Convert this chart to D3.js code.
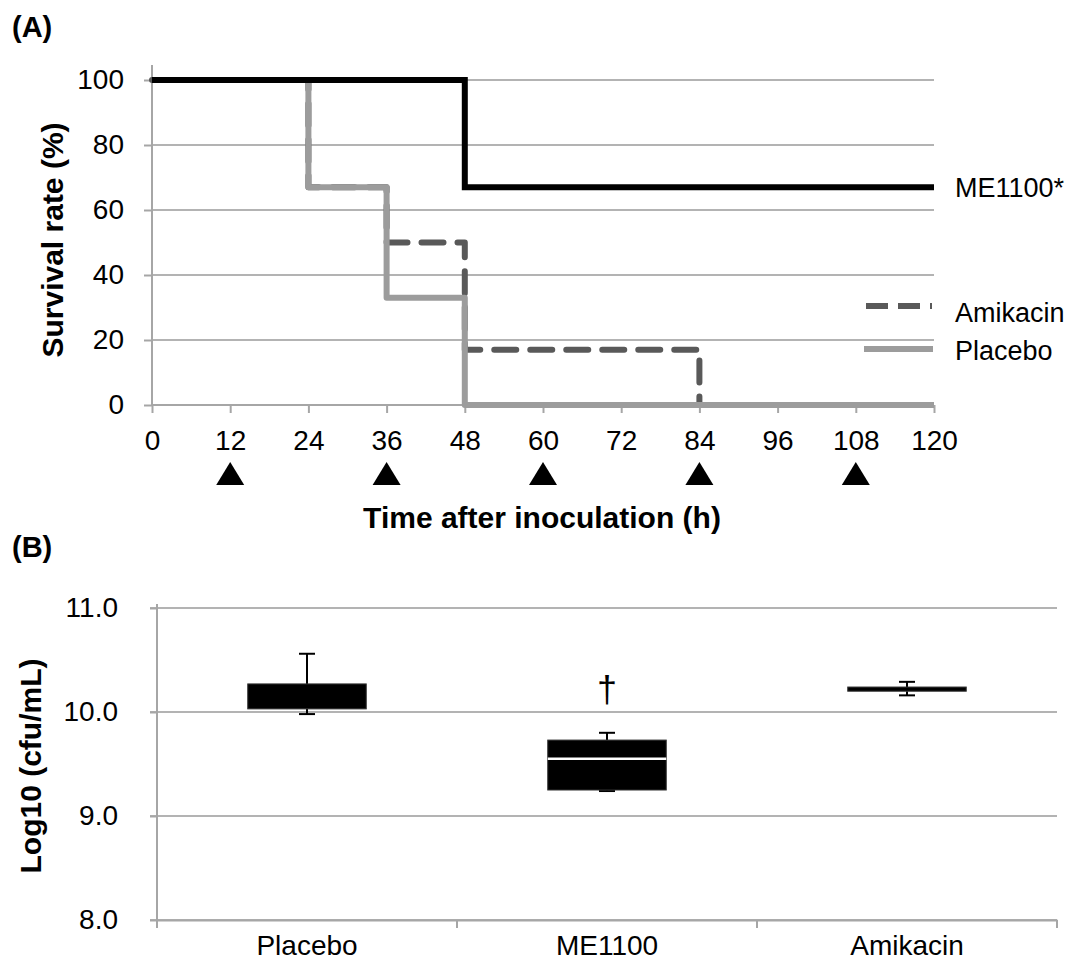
<!DOCTYPE html>
<html><head><meta charset="utf-8">
<script src="https://cdn.jsdelivr.net/npm/d3@7"></script>
<style>
html,body{margin:0;padding:0;background:#fff;}
text{font-family:"Liberation Sans",Arial,Helvetica,sans-serif;fill:#000;}
</style></head>
<body>
<svg id="chart" width="1089" height="974"></svg>
<script>
// ---------- Panel A data ----------
const survXTicks = [0, 12, 24, 36, 48, 60, 72, 84, 96, 108, 120];
const survYTicks = [0, 20, 40, 60, 80, 100];
const doseTimes = [12, 36, 60, 84, 108];
const me1100Times = [0, 48, 120];
const me1100Surv = [100, 67, 67];
const amikacinTimes = [0, 24, 36, 48, 84, 120];
const amikacinSurv = [100, 67, 50, 17, 0, 0];
const placeboTimes = [0, 24, 36, 48, 120];
const placeboSurv = [100, 67, 33, 0, 0];

// ---------- Panel B data ----------
const groups = ["Placebo", "ME1100", "Amikacin"];
const whiskerLow = [9.98, 9.24, 10.16];
const boxLow = [10.03, 9.25, 10.20];
const medians = [null, 9.55, null];
const boxHigh = [10.27, 9.73, 10.24];
const whiskerHigh = [10.56, 9.80, 10.29];
const logYTicks = [8.0, 9.0, 10.0, 11.0];

const svg = d3.select("#chart");
const gridColor = "#b3b3b3";
const axisColor = "#a6a6a6";

// ================= Panel A =================
const xA = d3.scaleLinear().domain([0, 120]).range([152, 934]);
const yA = d3.scaleLinear().domain([0, 100]).range([405, 80]);

svg.append("text").attr("x", 12).attr("y", 37)
  .style("font-size", "29px").style("font-weight", "bold").text("(A)");

// gridlines
svg.append("g").selectAll("line").data(survYTicks.filter(d => d > 0)).join("line")
  .attr("x1", xA(0)).attr("x2", xA(120))
  .attr("y1", d => yA(d)).attr("y2", d => yA(d))
  .attr("stroke", gridColor).attr("stroke-width", 2);

// y axis
const yAxisA = svg.append("g").attr("transform", `translate(${xA(0)},0)`)
  .call(d3.axisLeft(yA).tickValues(survYTicks).tickSize(8).tickPadding(20));
yAxisA.select(".domain").attr("stroke", axisColor).attr("stroke-width", 2)
  .attr("d", `M0,${yA(100) - 15}V${yA(0)}`);
yAxisA.selectAll(".tick line").attr("stroke", axisColor).attr("stroke-width", 2);
yAxisA.selectAll(".tick text").style("font-size", "28px")
  .style("font-family", "Liberation Sans, Arial, sans-serif").attr("fill", "#000");

// x axis
const xAxisA = svg.append("g").attr("transform", `translate(0,${yA(0)})`)
  .call(d3.axisBottom(xA).tickValues(survXTicks).tickSize(8).tickPadding(17));
xAxisA.select(".domain").attr("stroke", axisColor).attr("stroke-width", 2)
  .attr("d", `M${xA(0)},0H${xA(120)}`);
xAxisA.selectAll(".tick line").attr("stroke", axisColor).attr("stroke-width", 2);
xAxisA.selectAll(".tick text").style("font-size", "28px")
  .style("font-family", "Liberation Sans, Arial, sans-serif").attr("fill", "#000");

// dosing triangles
svg.append("g").selectAll("path").data(doseTimes).join("path")
  .attr("d", d => `M${xA(d) - 14},485L${xA(d)},462L${xA(d) + 14},485Z`)
  .attr("fill", "#000");

// axis titles
svg.append("text").attr("x", 542).attr("y", 528).attr("text-anchor", "middle")
  .style("font-size", "30px").style("font-weight", "bold").text("Time after inoculation (h)");
svg.append("text").attr("transform", "translate(63,240) rotate(-90)").attr("text-anchor", "middle")
  .style("font-size", "30px").style("font-weight", "bold").text("Survival rate (%)");

// step lines
const stepLine = d3.line().x(d => xA(d[0])).y(d => yA(d[1])).curve(d3.curveStepAfter);
const zip = (t, s) => t.map((v, i) => [v, s[i]]);

svg.append("path").datum(zip(amikacinTimes, amikacinSurv)).attr("d", stepLine)
  .attr("fill", "none").attr("stroke", "#595959").attr("stroke-width", 6)
  .attr("stroke-dasharray", "22,14").attr("stroke-linecap", "round").attr("stroke-linejoin", "round");
svg.append("path").datum(zip(placeboTimes, placeboSurv)).attr("d", stepLine)
  .attr("fill", "none").attr("stroke", "#9c9c9c").attr("stroke-width", 6).attr("stroke-linejoin", "round");
svg.append("path").datum(zip(me1100Times, me1100Surv)).attr("d", stepLine)
  .attr("fill", "none").attr("stroke", "#000").attr("stroke-width", 6);

// legend / labels
svg.append("text").attr("x", 955).attr("y", yA(67) + 10).style("font-size", "27px").text("ME1100*");
svg.append("line").attr("x1", 866).attr("x2", 932).attr("y1", 306).attr("y2", 306)
  .attr("stroke", "#595959").attr("stroke-width", 6).attr("stroke-dasharray", "22,10");
svg.append("text").attr("x", 955).attr("y", 322).style("font-size", "27px").text("Amikacin");
svg.append("line").attr("x1", 864).attr("x2", 933).attr("y1", 349).attr("y2", 349)
  .attr("stroke", "#9c9c9c").attr("stroke-width", 6);
svg.append("text").attr("x", 955).attr("y", 360).style("font-size", "27px").text("Placebo");

// ================= Panel B =================
const xB = d3.scaleBand().domain(groups).range([157, 1057]);
const yB = d3.scaleLinear().domain([8, 11]).range([920, 608]);

svg.append("text").attr("x", 12).attr("y", 557)
  .style("font-size", "29px").style("font-weight", "bold").text("(B)");

svg.append("g").selectAll("line").data(logYTicks).join("line")
  .attr("x1", 150).attr("x2", 1057)
  .attr("y1", d => yB(d)).attr("y2", d => yB(d))
  .attr("stroke", gridColor).attr("stroke-width", 2);

const yAxisB = svg.append("g").attr("transform", "translate(157,0)")
  .call(d3.axisLeft(yB).tickValues(logYTicks).tickFormat(d3.format(".1f")).tickSize(7).tickPadding(32));
yAxisB.select(".domain").attr("stroke", axisColor).attr("stroke-width", 2)
  .attr("d", `M0,${yB(11) - 4}V${yB(8)}`);
yAxisB.selectAll(".tick line").attr("stroke", axisColor).attr("stroke-width", 2);
yAxisB.selectAll(".tick text").style("font-size", "28px")
  .style("font-family", "Liberation Sans, Arial, sans-serif").attr("fill", "#000");

const xAxisB = svg.append("g").attr("transform", `translate(0,${yB(8)})`)
  .call(d3.axisBottom(xB).tickSize(0).tickPadding(15));
xAxisB.select(".domain").attr("stroke", axisColor).attr("stroke-width", 2);
xAxisB.selectAll(".tick text").style("font-size", "28px")
  .style("font-family", "Liberation Sans, Arial, sans-serif").attr("fill", "#000");
// boundary tick marks
svg.append("g").selectAll("line").data(groups.concat(["end"])).join("line")
  .attr("x1", (d, i) => 157 + i * xB.bandwidth()).attr("x2", (d, i) => 157 + i * xB.bandwidth())
  .attr("y1", yB(8)).attr("y2", yB(8) + 8).attr("stroke", axisColor).attr("stroke-width", 2);

const boxW = xB.bandwidth() * 0.395;
const capW = 16;
const gB = svg.append("g");
groups.forEach((g, i) => {
  const cx = xB(g) + xB.bandwidth() / 2;
  gB.append("line").attr("x1", cx).attr("x2", cx).attr("y1", yB(whiskerHigh[i])).attr("y2", yB(boxHigh[i]))
    .attr("stroke", "#000").attr("stroke-width", 2);
  gB.append("line").attr("x1", cx).attr("x2", cx).attr("y1", yB(whiskerLow[i])).attr("y2", yB(boxLow[i]))
    .attr("stroke", "#000").attr("stroke-width", 2);
  gB.append("line").attr("x1", cx - capW / 2).attr("x2", cx + capW / 2)
    .attr("y1", yB(whiskerHigh[i])).attr("y2", yB(whiskerHigh[i])).attr("stroke", "#000").attr("stroke-width", 2);
  gB.append("line").attr("x1", cx - capW / 2).attr("x2", cx + capW / 2)
    .attr("y1", yB(whiskerLow[i])).attr("y2", yB(whiskerLow[i])).attr("stroke", "#000").attr("stroke-width", 2);
  gB.append("rect").attr("x", cx - boxW / 2).attr("width", boxW)
    .attr("y", yB(boxHigh[i])).attr("height", yB(boxLow[i]) - yB(boxHigh[i]))
    .attr("fill", "#000").attr("stroke", "#333").attr("stroke-width", 1);
  if (medians[i] !== null) {
    gB.append("line").attr("x1", cx - boxW / 2).attr("x2", cx + boxW / 2)
      .attr("y1", yB(medians[i])).attr("y2", yB(medians[i])).attr("stroke", "#fff").attr("stroke-width", 2.5);
  }
});

// significance mark
svg.append("text").attr("x", xB("ME1100") + xB.bandwidth() / 2).attr("y", 702)
  .attr("text-anchor", "middle").style("font-size", "36px").text("†");

// y title B
svg.append("text").attr("transform", "translate(41,766) rotate(-90)").attr("text-anchor", "middle")
  .style("font-size", "30px").style("font-weight", "bold").text("Log10 (cfu/mL)");
</script>
</body></html>
